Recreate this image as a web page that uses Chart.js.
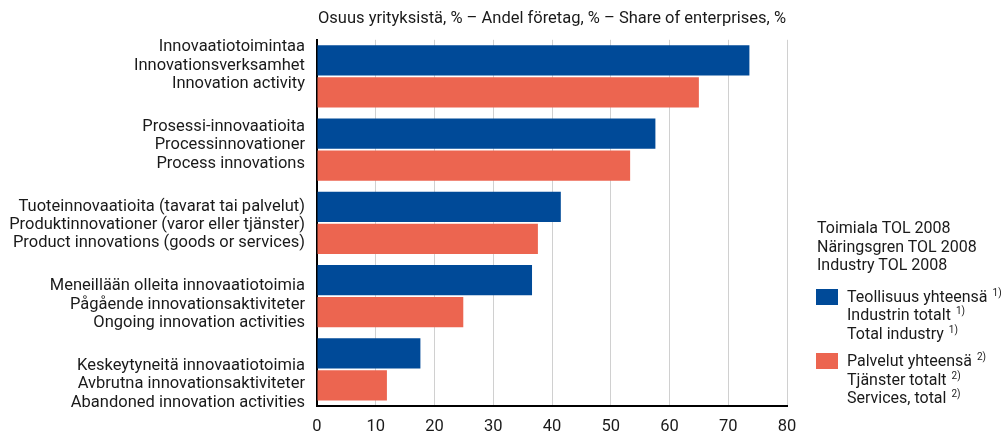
<!DOCTYPE html>
<html>
<head>
<meta charset="utf-8">
<script src="https://cdn.jsdelivr.net/npm/chart.js@4"></script>
<style>
  html, body { margin: 0; padding: 0; background: #fff; }
  #wrap { position: relative; width: 1002px; height: 436px; }
  #legend { position: absolute; left: 817px; top: 219px; font-family: Roboto, sans-serif; font-size: 16px; line-height: 18.5px; color: #1a1a1a; }
  #legend .ttl { margin-bottom: 13px; }
  #legend .item { position: relative; padding-left: 30px; margin-bottom: 9px; }
  #legend .box { position: absolute; left: -1px; top: 1px; width: 22px; height: 16px; }
  #legend sup { font-size: 10px; line-height: 0; vertical-align: 6px; margin-left: 1px; }
</style>
</head>
<body>
<div id="wrap">
  <canvas id="c" width="1002" height="436"></canvas>
  <div id="legend"></div>
</div>
<script>
const categories = [
  ["Innovaatiotoimintaa", "Innovationsverksamhet", "Innovation activity"],
  ["Prosessi-innovaatioita", "Processinnovationer", "Process innovations"],
  ["Tuoteinnovaatioita (tavarat tai palvelut)", "Produktinnovationer (varor eller tjänster)", "Product innovations (goods or services)"],
  ["Meneillään olleita innovaatiotoimia", "Pågående innovationsaktiviteter", "Ongoing innovation activities"],
  ["Keskeytyneitä innovaatiotoimia", "Avbrutna innovationsaktiviteter", "Abandoned innovation activities"]
];
const industryValues = [73.6, 57.6, 41.5, 36.6, 17.6];
const servicesValues = [65.0, 53.3, 37.6, 24.9, 11.9];
const industryName = ["Teollisuus yhteensä", "Industrin totalt", "Total industry"];
const industryNote = "1)";
const servicesName = ["Palvelut yhteensä", "Tjänster totalt", "Services, total"];
const servicesNote = "2)";
const legendTitle = ["Toimiala TOL 2008", "Näringsgren TOL 2008", "Industry TOL 2008"];
const chartTitle = "Osuus yrityksistä, % – Andel företag, % – Share of enterprises, %";
const xTicks = [0, 10, 20, 30, 40, 50, 60, 70, 80];

const blue = '#004a98';
const orange = '#ec6550';
const FONT = 'Roboto, sans-serif';
const TXT = '#1a1a1a';

// legend
const lg = document.getElementById('legend');
let html = '<div class="ttl">' + legendTitle.join('<br>') + '</div>';
[[industryName, industryNote, blue], [servicesName, servicesNote, orange]].forEach(([names, note, col]) => {
  html += '<div class="item"><span class="box" style="background:' + col + '"></span>' +
    names.map(n => n + ' <sup>' + note + '</sup>').join('<br>') + '</div>';
});
lg.innerHTML = html;

new Chart(document.getElementById('c'), {
  type: 'bar',
  data: {
    labels: categories.map(c => c.join(' ')),
    datasets: [
      { label: industryName.join(' '), data: industryValues, backgroundColor: blue, yAxisID: 'y', barPercentage: 0.95, categoryPercentage: 0.87 },
      { label: servicesName.join(' '), data: servicesValues, backgroundColor: orange, yAxisID: 'y', barPercentage: 0.95, categoryPercentage: 0.87 }
    ]
  },
  options: {
    indexAxis: 'y',
    responsive: false,
    animation: false,
    layout: { padding: { left: 0, right: 215, top: 0, bottom: 0 } },
    plugins: {
      legend: { display: false },
      tooltip: { enabled: false },
      title: {
        display: true, text: chartTitle, fullSize: false, color: TXT,
        font: { family: FONT, size: 16.5, weight: 'normal', lineHeight: 1.2 }, padding: { top: 9, bottom: 11 }
      }
    },
    scales: {
      x: {
        type: 'linear', min: 0, max: 80, position: 'bottom',
        afterBuildTicks: (ax) => { ax.ticks = xTicks.map(v => ({ value: v })); },
        grid: { display: true, color: '#d0d0d0', lineWidth: 1, drawTicks: false },
        border: { display: true, color: '#000', width: 2 },
        ticks: { color: TXT, font: { family: FONT, size: 16.5 }, padding: 11 },
        afterFit: (ax) => { ax.height = 30; ax.paddingLeft = 0; ax.paddingRight = 0; }
      },
      y: {
        type: 'category', display: false, offset: true
      },
      yl: {
        type: 'linear', position: 'left', reverse: true, offset: false, min: -0.327, max: 4.277,
        afterBuildTicks: (ax) => { ax.ticks = categories.map((c, i) => ({ value: i })); },
        grid: { display: false, drawTicks: false, offset: false },
        border: { display: true, color: '#000', width: 2 },
        ticks: {
          color: TXT, font: { family: FONT, size: 16.5, lineHeight: 1.12 }, padding: 12,
          callback: (v) => categories[v]
        },
        afterFit: (ax) => { ax.width = 317; ax.paddingTop = 0; ax.paddingBottom = 0; }
      }
    }
  }
});
</script>
</body>
</html>
